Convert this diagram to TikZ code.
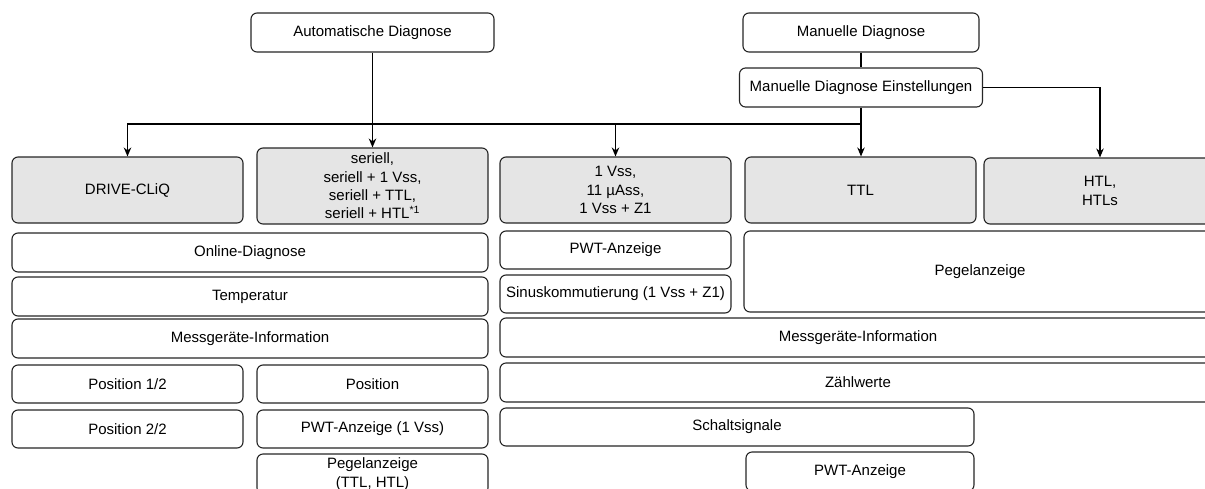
\documentclass[tikz,border=0pt]{standalone}
\usepackage{fontspec}
\setmainfont{Liberation Sans}
\usetikzlibrary{arrows.meta}

\begin{document}
\begin{tikzpicture}[x=1pt, y=-1pt,
        box/.style={draw=black!85, line width=1.1pt, rounded corners=6pt, fill=white, align=center, inner sep=0pt, font=\fontsize{15}{18.3}\selectfont},
        grau/.style={box, fill=black!10},
        arr/.style={-{Stealth[length=9pt,width=7.5pt]}, line width=1.2pt, draw=black}]
        \useasboundingbox (0,0) rectangle (1205,488);

        \node[box, minimum width=243pt, minimum height=39pt] (auto) at (372.5,32.5) {Automatische Diagnose};
        \node[box, minimum width=236pt, minimum height=39pt] (man) at (861,32.5) {Manuelle Diagnose};
        \node[box, minimum width=243pt, minimum height=39pt] (manein) at (861,87.5) {Manuelle Diagnose Einstellungen};

        \node[grau, minimum width=231pt, minimum height=66pt] (drive) at (127.5,190) {DRIVE-CLiQ};
        \node[grau, minimum width=231pt, minimum height=76pt] (seriell) at (372.5,186) {seriell,\\seriell + 1 Vss,\\seriell + TTL,\\seriell + HTL\textsuperscript{*1}};
        \node[grau, minimum width=231pt, minimum height=66pt] (vss) at (615.5,190) {1 Vss,\\11 µAss,\\1 Vss + Z1};
        \node[grau, minimum width=231pt, minimum height=66pt] (ttl) at (860.5,190) {TTL};
        \node[grau, minimum width=232pt, minimum height=66pt] (htl) at (1100,191) {HTL,\\HTLs};

        \node[box, minimum width=476pt, minimum height=39pt] (online) at (250,252.5) {Online-Diagnose};
        \node[box, minimum width=476pt, minimum height=39pt] (temp) at (250,296.5) {Temperatur};
        \node[box, minimum width=476pt, minimum height=39pt] (messl) at (250,338.5) {Messgeräte-Information};
        \node[box, minimum width=231pt, minimum height=38pt] (posa) at (127.5,384) {Position 1/2};
        \node[box, minimum width=231pt, minimum height=38pt] (pos) at (372.5,384) {Position};
        \node[box, minimum width=231pt, minimum height=38pt] (posb) at (127.5,429) {Position 2/2};
        \node[box, minimum width=231pt, minimum height=38pt] (pwtvss) at (372.5,429) {PWT-Anzeige (1 Vss)};
        \node[box, minimum width=231pt, minimum height=40pt] (pegelth) at (372.5,474) {Pegelanzeige\\(TTL, HTL)};

        \node[box, minimum width=231pt, minimum height=38pt] (pwt) at (615.5,250) {PWT-Anzeige};
        \node[box, minimum width=231pt, minimum height=38pt] (sinus) at (615.5,294) {Sinuskommutierung (1 Vss + Z1)};
        \node[box, minimum width=472pt, minimum height=81pt] (pegel) at (980,271.5) {Pegelanzeige};
        \node[box, minimum width=716pt, minimum height=39pt] (messr) at (858,337.5) {Messgeräte-Information};
        \node[box, minimum width=716pt, minimum height=39pt] (zaehl) at (858,382.5) {Zählwerte};
        \node[box, minimum width=474pt, minimum height=38pt] (schalt) at (737,427) {Schaltsignale};
        \node[box, minimum width=228pt, minimum height=39pt] (pwtb) at (860,471.5) {PWT-Anzeige};

        \coordinate (knoten) at (861,124);
        \draw[arr] (auto) -- (seriell);
        \draw[line width=1.2pt] (man) -- (manein);
        \draw[arr] (manein.south) -- (manein.south |- ttl.north);
        \draw[arr] (knoten) -| (drive.north);
        \draw[arr] (knoten -| vss.north) -- (vss.north);
        \draw[arr] (manein.east) -| (htl.north);
    \end{tikzpicture}
\end{document}
